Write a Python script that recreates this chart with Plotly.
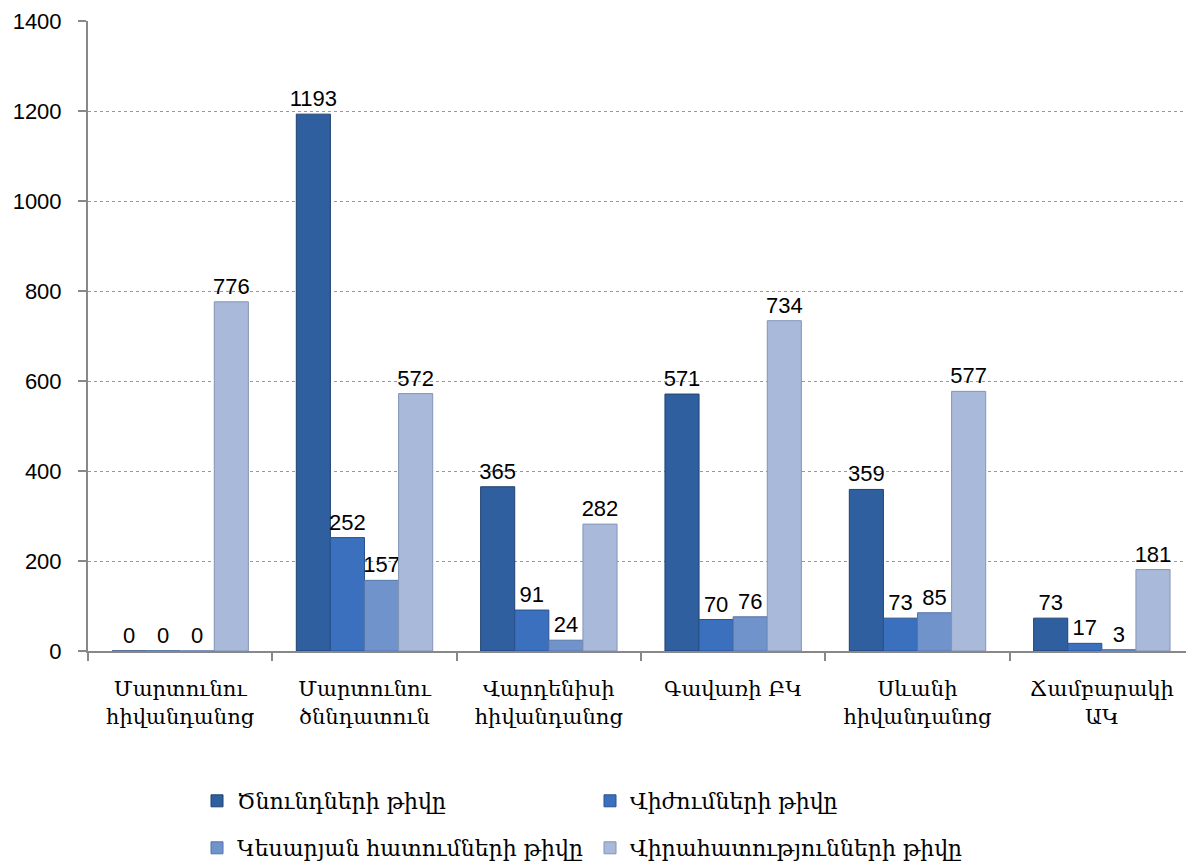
import plotly.graph_objects as go

categories = [
    "Մարտունու<br>հիվանդանոց",
    "Մարտունու<br>ծննդատուն",
    "Վարդենիսի<br>հիվանդանոց",
    "Գավառի ԲԿ",
    "Սևանի<br>հիվանդանոց",
    "Ճամբարակի<br>ԱԿ",
]
series_names = [
    "Ծնունդների թիվը",
    "Վիժումների թիվը",
    "Կեսարյան հատումների թիվը",
    "Վիրահատությունների թիվը",
]
births = [0, 1193, 365, 571, 359, 73]
abortions = [0, 252, 91, 70, 73, 17]
cesareans = [0, 157, 24, 76, 85, 3]
surgeries = [776, 572, 282, 734, 577, 181]
y_ticks = [0, 200, 400, 600, 800, 1000, 1200, 1400]

series_values = [births, abortions, cesareans, surgeries]
colors = ["#2F5F9E", "#3A70BE", "#7193CC", "#A9B9DA"]
line_colors = ["#1F4270", "#28538F", "#5574A8", "#8394B4"]
legends = ["legend", "legend", "legend2", "legend2"]

arm_font = "DejaVu Serif"
num_font = "Liberation Sans"

# page has an 8px body margin, so the figure is sized to fill the rest
FIG_W, FIG_H = 1186, 857

fig = go.Figure()
for name, vals, c, lc, lg in zip(series_names, series_values, colors, line_colors, legends):
    fig.add_trace(go.Bar(
        name=name,
        x=categories,
        y=vals,
        marker=dict(color=c, line=dict(color=lc, width=1)),
        text=[str(v) for v in vals],
        textposition="outside",
        constraintext="none",
        textfont=dict(family=num_font, size=22, color="#000000"),
        cliponaxis=False,
        legend=lg,
    ))

legend_common = dict(
    orientation="h",
    xref="container", yref="container",
    x=189 / FIG_W, xanchor="left",
    yanchor="middle",
    entrywidth=348, entrywidthmode="pixels",
    font=dict(family=arm_font, size=22, color="#000000"),
    bgcolor="rgba(0,0,0,0)",
)

fig.update_layout(
    width=FIG_W,
    height=FIG_H,
    margin=dict(l=80, r=0, t=13, b=214, autoexpand=False),
    paper_bgcolor="white",
    plot_bgcolor="white",
    barmode="group",
    bargap=0.26,
    bargroupgap=0,
    showlegend=True,
    legend=dict(legend_common, y=1 - 793 / FIG_H),
    legend2=dict(legend_common, y=1 - 840 / FIG_H),
    xaxis=dict(
        type="category",
        automargin=False,
        tickson="boundaries",
        ticks="outside",
        ticklen=8,
        tickcolor="#888888",
        tickwidth=2,
        showline=True,
        linecolor="#888888",
        linewidth=2,
        showgrid=False,
        ticklabelstandoff=18,
        tickfont=dict(family=arm_font, size=21, color="#000000"),
    ),
    yaxis=dict(
        range=[0, 1400],
        automargin=False,
        tickvals=y_ticks,
        ticks="outside",
        ticklen=8,
        tickcolor="#888888",
        tickwidth=2,
        showline=True,
        linecolor="#888888",
        linewidth=2,
        showgrid=True,
        gridcolor="#999999",
        griddash="dot",
        gridwidth=1,
        zeroline=False,
        ticklabelstandoff=12,
        tickfont=dict(family=num_font, size=22, color="#000000"),
    ),
)

fig.write_html("out.html")
